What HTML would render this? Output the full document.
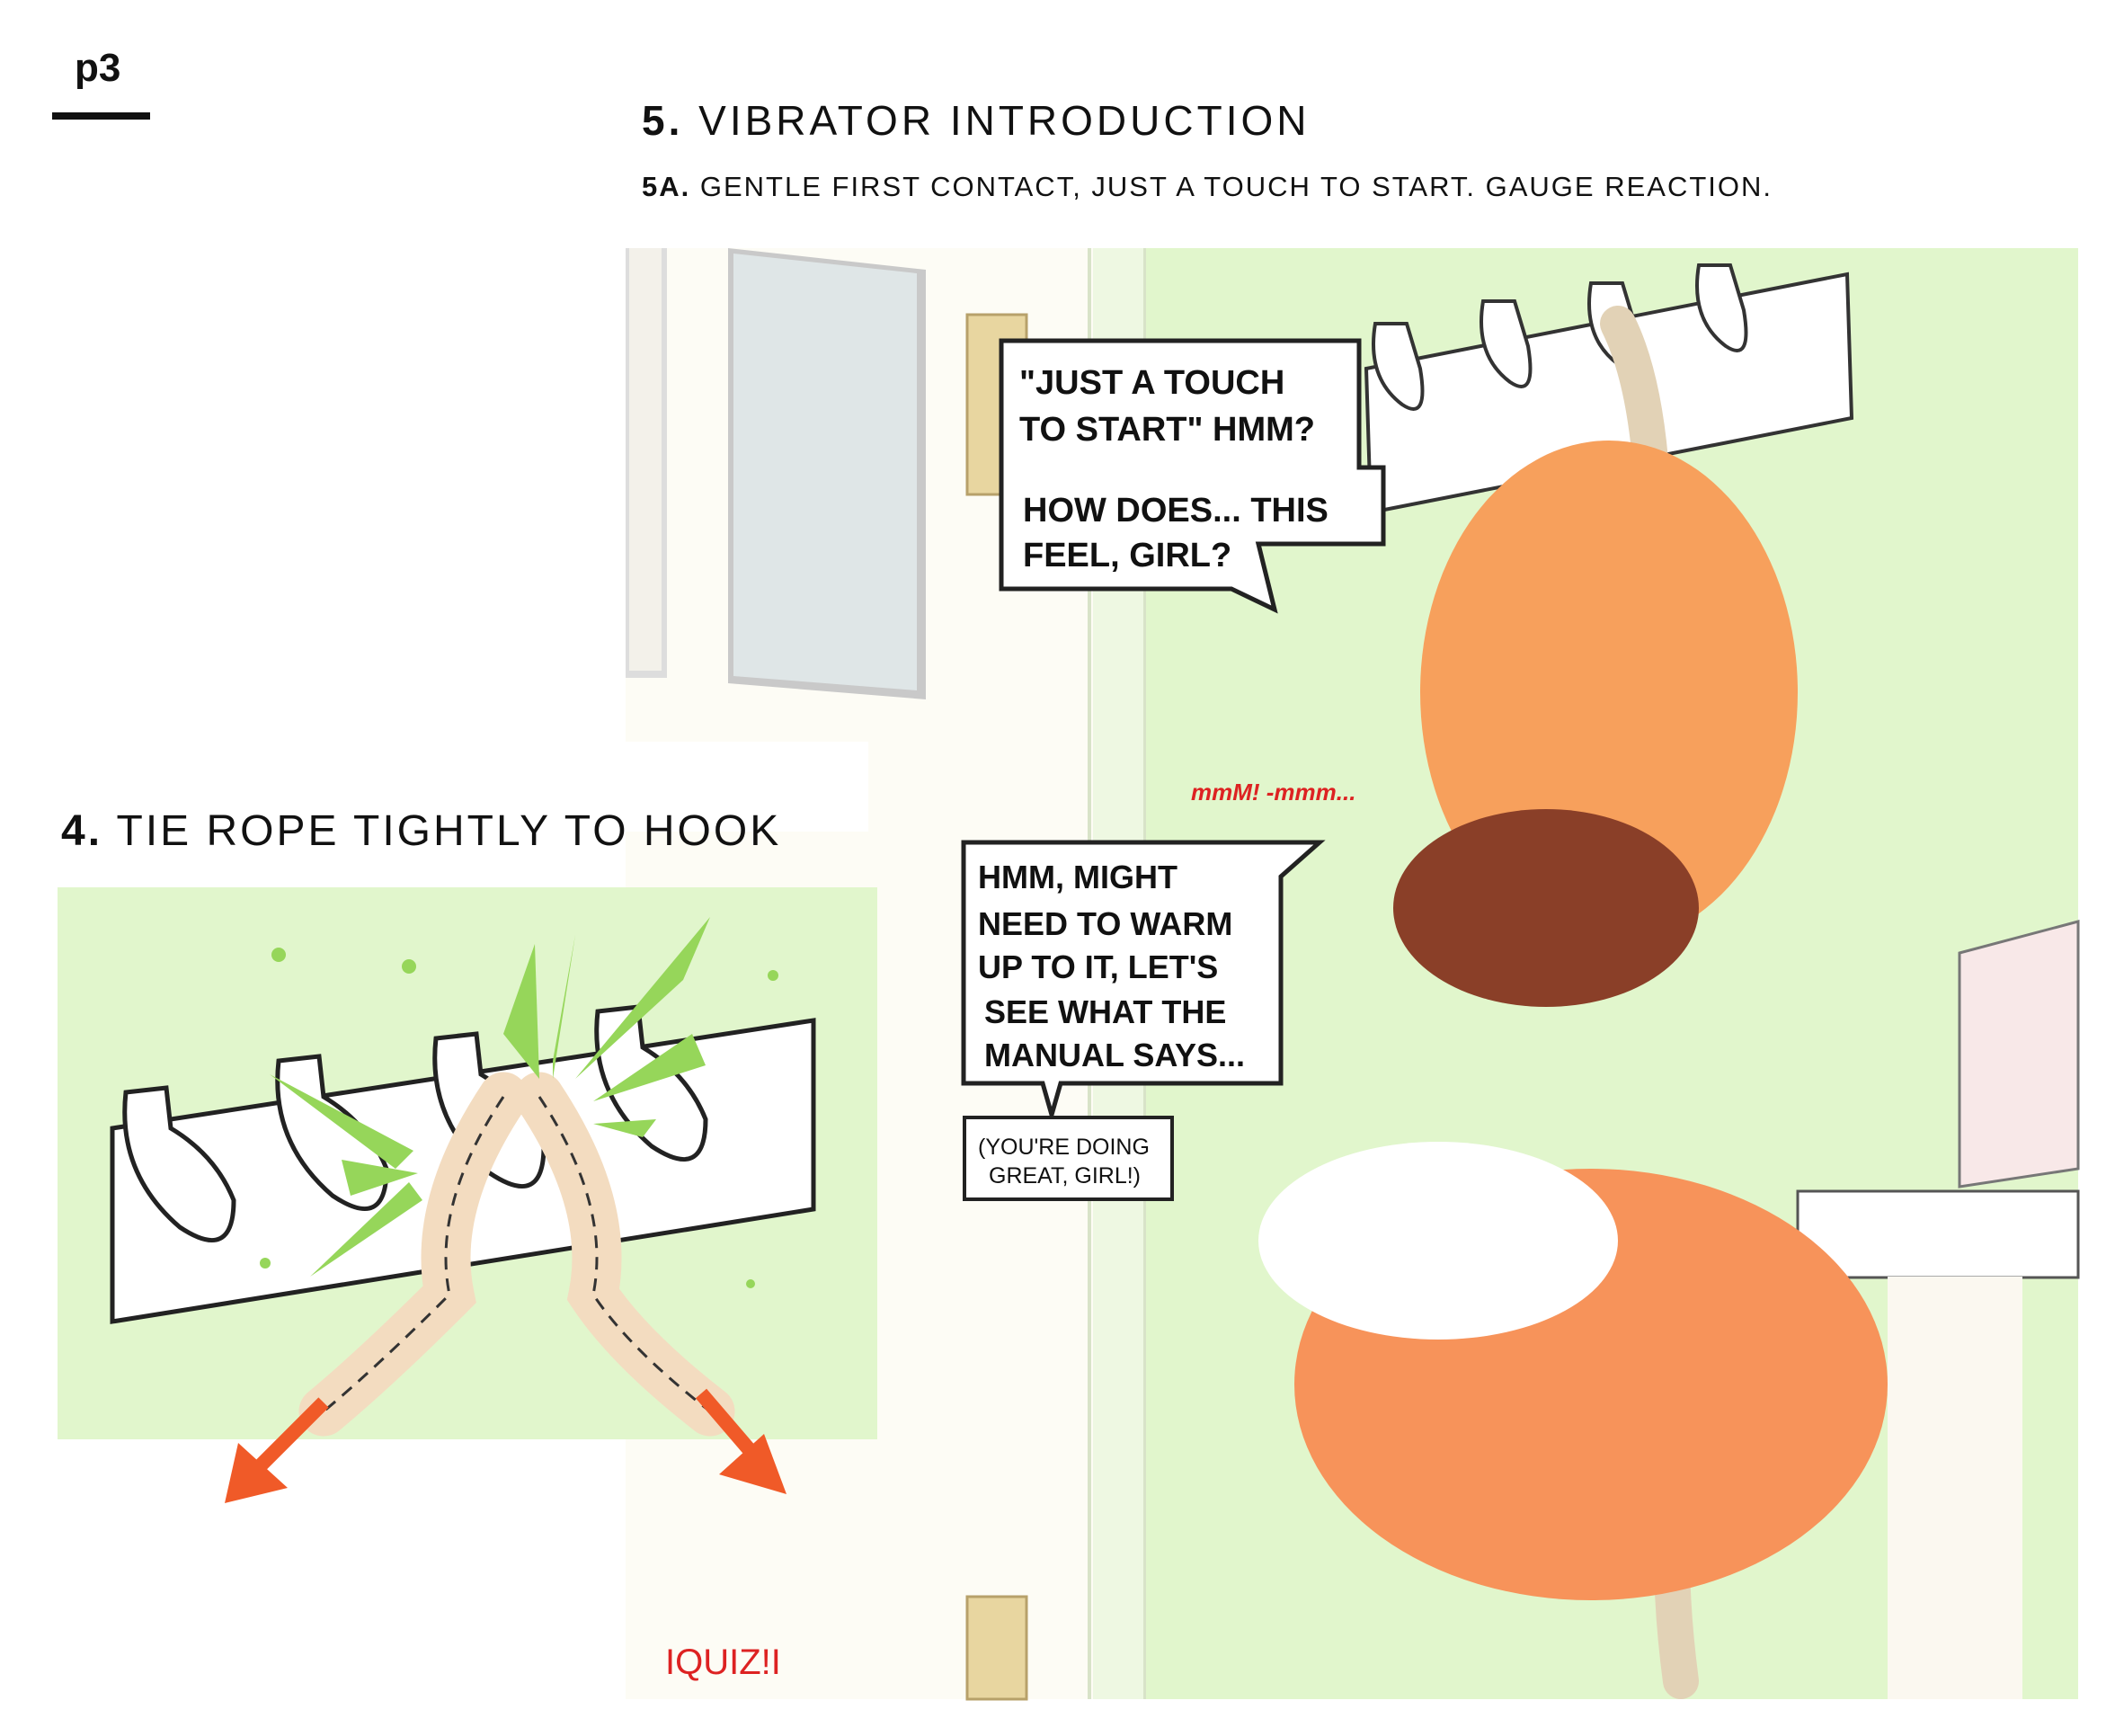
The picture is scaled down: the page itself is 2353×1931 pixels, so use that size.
<!DOCTYPE html>
<html><head><meta charset="utf-8"><style>
html,body{margin:0;padding:0;background:#fff;}
svg{display:block;}
text{font-family:"Liberation Sans",sans-serif;}
</style></head><body>
<svg width="2353" height="1931" viewBox="0 0 2353 1931" xmlns="http://www.w3.org/2000/svg">
<rect width="2353" height="1931" fill="#fff"/>
<!-- headers -->
<text x="83" y="90" font-size="44" font-weight="bold" fill="#111">p3</text>
<rect x="58" y="125" width="109" height="8" fill="#111"/>
<text x="714" y="150" font-size="46" letter-spacing="4" fill="#111"><tspan font-weight="bold">5.</tspan> VIBRATOR INTRODUCTION</text>
<text x="714" y="218" font-size="31" letter-spacing="2" fill="#111"><tspan font-weight="bold">5A.</tspan> GENTLE FIRST CONTACT, JUST A TOUCH TO START.  GAUGE REACTION.</text>

<!-- main panel -->
<rect x="696" y="276" width="1616" height="1614" fill="#e1f6cc"/>
<rect x="696" y="276" width="520" height="1614" fill="#fdfcf5"/>
<rect x="1216" y="276" width="58" height="1614" fill="#eef8e2"/>
<rect x="1210" y="276" width="4" height="1614" fill="#d8e3c8"/>
<rect x="1272" y="276" width="3" height="1614" fill="#d8e3c8"/>
<!-- door window -->
<rect x="696" y="276" width="46" height="478" fill="#ddd" />
<rect x="700" y="276" width="36" height="470" fill="#f3f1ea"/>
<polygon points="810,276 1030,300 1030,778 810,760" fill="#c9c9c9"/>
<polygon points="816,282 1020,304 1020,768 816,752" fill="#dfe6e7"/>
<!-- hinges -->
<rect x="1076" y="350" width="66" height="200" fill="#e8d6a0" stroke="#b7a16a" stroke-width="3"/>
<rect x="1076" y="1776" width="66" height="114" fill="#e8d6a0" stroke="#b7a16a" stroke-width="3"/>
<!-- right furniture -->
<rect x="2000" y="1325" width="312" height="96" fill="#fff" stroke="#555" stroke-width="3"/>
<rect x="2100" y="1420" width="150" height="470" fill="#fbf8f0"/>
<polygon points="2180,1060 2312,1025 2312,1300 2180,1320" fill="#f8e8e8" stroke="#777" stroke-width="3"/>
<!-- hook rack main -->
<polygon points="1520,410 2055,305 2060,465 1525,570" fill="#fff" stroke="#333" stroke-width="4"/>
<g fill="#fff" stroke="#333" stroke-width="4">
<path d="M1530,360 q-10,60 30,90 q30,20 20,-40 l-15,-50 z"/>
<path d="M1650,335 q-10,60 30,90 q30,20 20,-40 l-15,-50 z"/>
<path d="M1770,315 q-10,60 30,90 q30,20 20,-40 l-15,-50 z"/>
<path d="M1890,295 q-10,60 30,90 q30,20 20,-40 l-15,-50 z"/>
</g>
<path d="M1800,360 q40,80 40,250 M1870,1600 q-20,120 0,270" stroke="#e2d2b6" stroke-width="40" fill="none" stroke-linecap="round"/>
<!-- placeholder figure shapes -->
<ellipse cx="1790" cy="770" rx="210" ry="280" fill="#f7a05c"/>
<ellipse cx="1770" cy="1540" rx="330" ry="240" fill="#f7935a"/>
<ellipse cx="1600" cy="1380" rx="200" ry="110" fill="#fff"/>
<ellipse cx="1720" cy="1010" rx="170" ry="110" fill="#8a3f28"/>

<!-- bubble 1 -->
<polygon points="1114,379 1512,379 1512,520 1539,520 1539,605 1400,605 1418,678 1370,655 1114,655" fill="#fff" stroke="#222" stroke-width="5"/>
<g font-family="Liberation Sans" font-weight="bold" font-size="38" fill="#111">
<text x="1134" y="438">"JUST A TOUCH</text>
<text x="1134" y="490">TO START" HMM?</text>
<text x="1138" y="580">HOW DOES... THIS</text>
<text x="1138" y="630">FEEL, GIRL?</text>
</g>
<!-- bubble 2 -->
<polygon points="1072,937 1468,937 1425,975 1425,1205 1180,1205 1170,1240 1160,1205 1072,1205" fill="#fff" stroke="#222" stroke-width="5"/>
<g font-weight="bold" font-size="36" fill="#111">
<text x="1088" y="988">HMM, MIGHT</text>
<text x="1088" y="1040">NEED TO WARM</text>
<text x="1088" y="1088">UP TO IT, LET'S</text>
<text x="1095" y="1138">SEE WHAT THE</text>
<text x="1095" y="1186">MANUAL SAYS...</text>
</g>
<rect x="1073" y="1243" width="231" height="91" fill="#fff" stroke="#222" stroke-width="4"/>
<text x="1088" y="1284" font-size="25" fill="#111">(YOU'RE DOING</text>
<text x="1100" y="1316" font-size="25" fill="#111">GREAT, GIRL!)</text>
<text x="1325" y="890" font-size="26" font-style="italic" font-weight="bold" fill="#d22">mmM! -mmm...</text>
<text x="740" y="1862" font-size="40" fill="#d22">IQUIZ!I</text>

<!-- left section -->
<rect x="696" y="825" width="270" height="100" fill="#fff"/>
<text x="68" y="940" font-size="48" letter-spacing="3" fill="#111"><tspan font-weight="bold">4.</tspan> TIE ROPE TIGHTLY TO HOOK</text>
<rect x="64" y="987" width="912" height="614" fill="#e1f6cc"/>
<polygon points="125,1255 905,1135 905,1345 125,1470" fill="#fff" stroke="#222" stroke-width="5"/>
<g fill="#fff" stroke="#222" stroke-width="5">
<path d="M140,1215 q-10,90 60,150 q60,40 60,-30 q-20,-50 -70,-80 l-5,-45 z"/>
<path d="M310,1180 q-10,90 60,150 q60,40 60,-30 q-20,-50 -70,-80 l-5,-45 z"/>
<path d="M485,1155 q-10,90 60,150 q60,40 60,-30 q-20,-50 -70,-80 l-5,-45 z"/>
<path d="M665,1125 q-10,90 60,150 q60,40 60,-30 q-20,-50 -70,-80 l-5,-45 z"/>
</g>
<path d="M560,1220 q-80,120 -60,220 q-80,80 -140,130 M600,1220 q80,120 60,220 q40,60 130,130" stroke="#f3dcc0" stroke-width="55" fill="none" stroke-linecap="round"/>
<path d="M560,1220 q-80,120 -60,220 q-80,80 -140,130 M600,1220 q80,120 60,220 q40,60 130,130" stroke="#333" stroke-width="3" fill="none" stroke-dasharray="14 10"/>
<g stroke="#f05a28" stroke-width="16" fill="#f05a28">
<line x1="360" y1="1560" x2="280" y2="1640"/>
<polygon points="250,1672 265,1605 320,1655" stroke="none"/>
<line x1="780" y1="1550" x2="840" y2="1620"/>
<polygon points="875,1662 800,1640 850,1595" stroke="none"/>
</g>
<g fill="#96d65a">
<polygon points="300,1195 460,1280 440,1300"/>
<polygon points="380,1290 465,1305 390,1330"/>
<polygon points="345,1420 455,1315 470,1335"/>
<polygon points="560,1150 595,1050 600,1200"/>
<polygon points="615,1200 640,1040 615,1180"/>
<polygon points="640,1200 790,1020 760,1090"/>
<polygon points="660,1225 770,1150 785,1185"/>
<polygon points="660,1250 730,1245 715,1265"/>
<circle cx="310" cy="1062" r="8"/><circle cx="455" cy="1075" r="8"/><circle cx="860" cy="1085" r="6"/><circle cx="295" cy="1405" r="6"/><circle cx="835" cy="1428" r="5"/>
</g>
</svg>
</body></html>
